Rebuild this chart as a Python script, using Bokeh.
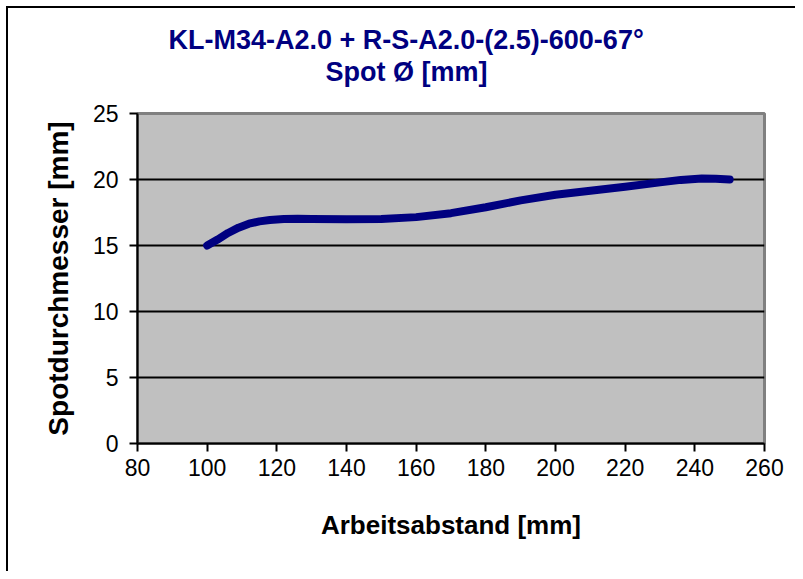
from bokeh.plotting import figure
from bokeh.models import Range1d, FixedTicker, Title
from bokeh.embed import file_html
from bokeh.resources import INLINE

# Data
abstand = [100, 103, 106, 109, 112, 115, 118, 122, 126, 130, 140, 150, 160, 170, 180, 190, 200,
           210, 220, 230, 236, 242, 246, 250]
spot = [15.0, 15.45, 15.95, 16.35, 16.65, 16.83, 16.93, 17.0, 17.02, 17.0, 16.98, 17.0, 17.15,
        17.45, 17.9, 18.42, 18.85, 19.15, 19.45, 19.78, 19.97, 20.07, 20.06, 20.0]

x_ticks = [80, 100, 120, 140, 160, 180, 200, 220, 240, 260]
y_ticks = [0, 5, 10, 15, 20, 25]

title_1 = "KL-M34-A2.0 + R-S-A2.0-(2.5)-600-67°"
title_2 = "Spot Ø [mm]"
x_label = "Arbeitsabstand [mm]"
y_label = "Spotdurchmesser [mm]"

FONT = "Liberation Sans"

p = figure(
    frame_width=627, frame_height=330,
    min_border_left=129, min_border_right=31, min_border_top=105, min_border_bottom=128,
    x_range=Range1d(80, 260), y_range=Range1d(0, 25),
    output_backend="svg", toolbar_location=None,
)
p.styles = {"margin-left": "6px", "margin-top": "6px",
            "border-left": "2px solid black", "border-top": "2px solid black"}

p.background_fill_color = "#C0C0C0"
p.border_fill_color = "white"
p.outline_line_color = "#808080"
p.outline_line_width = 3

p.xgrid.visible = False
p.ygrid.grid_line_color = "black"
p.ygrid.grid_line_width = 2
p.ygrid.ticker = FixedTicker(ticks=y_ticks)

p.xaxis.ticker = FixedTicker(ticks=x_ticks)
p.yaxis.ticker = FixedTicker(ticks=y_ticks)
for ax in (p.xaxis, p.yaxis):
    ax.axis_line_color = "black"
    ax.axis_line_width = 2
    ax.major_tick_line_color = "black"
    ax.major_tick_line_width = 2
    ax.major_tick_in = 0
    ax.major_tick_out = 8
    ax.minor_tick_line_color = None
    ax.major_label_text_font = FONT
    ax.major_label_text_font_size = "23px"
    ax.major_label_text_color = "black"
    ax.axis_label_text_font = FONT
    ax.axis_label_text_font_style = "bold"
    ax.axis_label_text_color = "black"
p.xaxis.major_label_standoff = 7
p.yaxis.major_label_standoff = 11
p.xaxis.axis_label = x_label
p.xaxis.axis_label_text_font_size = "26px"
p.xaxis.axis_label_standoff = 31
p.yaxis.axis_label = y_label
p.yaxis.axis_label_text_font_size = "28px"
p.yaxis.axis_label_standoff = 16

p.line(abstand, spot, line_color="#000080", line_width=8, line_cap="round", line_join="round")

# invisible spacer between the frame and the two title lines
p.add_layout(Title(text=" ", text_font_size="1px", standoff=24), "above")
p.add_layout(Title(text=title_2, align="left", offset=188, text_font=FONT, text_font_size="27px",
                   text_font_style="bold", text_color="#000080", standoff=0), "above")
p.add_layout(Title(text=title_1, align="left", offset=31, text_font=FONT, text_font_size="27px",
                   text_font_style="bold", text_color="#000080", standoff=0), "above")

open("out.html", "w").write(file_html(p, INLINE))
